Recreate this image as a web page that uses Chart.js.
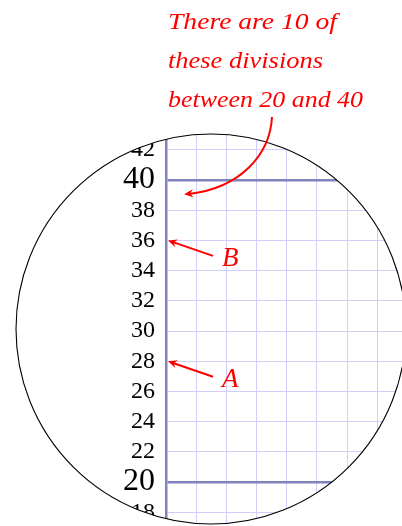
<!DOCTYPE html>
<html>
<head>
<meta charset="utf-8">
<script src="https://cdn.jsdelivr.net/npm/chart.js@4.4.1/dist/chart.umd.min.js"></script>
<style>
html,body{margin:0;padding:0;background:#fff;}
#wrap{width:402px;height:526px;position:relative;}
</style>
</head>
<body>
<div id="wrap"><canvas id="c" width="402" height="526"></canvas></div>
<script>
// ---- data ----
const yRange = [17.09, 51.92];          // visible value range of the scale
const xRange = [0, 15.63];
const gridStep = [2];                    // both directions
const majorValues = [20, 40];            // emphasised lines / larger labels
const markedLabels = ['B', 'A'];
const markedValues = [36, 28];
const noteLines = ['There are 10 of', 'these divisions', 'between 20 and 40'];
const noteArrowTarget = [1.2, 39.05];    // x, y value where curved arrow ends

const RED = '#ff0000';
const AXIS = '#8282bf';
const GRID = '#cfcff7';
const SERIF = '"Liberation Serif", "Times New Roman", Times, serif';

function arrowHead(ctx, x, y, ang) {
  const L = 10, W = 0.42;
  ctx.beginPath();
  ctx.moveTo(x, y);
  ctx.lineTo(x - L * Math.cos(ang - W), y - L * Math.sin(ang - W));
  ctx.lineTo(x - 6 * Math.cos(ang), y - 6 * Math.sin(ang));
  ctx.lineTo(x - L * Math.cos(ang + W), y - L * Math.sin(ang + W));
  ctx.closePath();
  ctx.fill();
}

const circle = {cx: 211, cy: 329, r: 195};

const lensPlugin = {
  id: 'lens',
  beforeDraw(chart) {
    const ctx = chart.ctx;
    ctx.save();
    ctx.beginPath();
    ctx.arc(circle.cx, circle.cy, circle.r, 0, Math.PI * 2);
    ctx.clip();
  },
  afterDraw(chart) {
    const ctx = chart.ctx;
    ctx.restore();
    ctx.save();
    ctx.strokeStyle = '#000';
    ctx.lineWidth = 1.1;
    ctx.beginPath();
    ctx.arc(circle.cx, circle.cy, circle.r, 0, Math.PI * 2);
    ctx.stroke();
    ctx.restore();

    const xs = chart.scales.x, ys = chart.scales.y;
    const left = chart.chartArea.left;

    ctx.save();
    ctx.fillStyle = RED;
    ctx.strokeStyle = RED;
    ctx.lineWidth = 2;
    markedLabels.forEach((lab, i) => {
      const ty = ys.getPixelForValue(markedValues[i]);
      const tx = left + 2;
      const sx = tx + 45, sy = ty + 15.5;
      ctx.beginPath();
      ctx.moveTo(sx, sy);
      ctx.lineTo(tx + 5, ty + 1.7);
      ctx.stroke();
      arrowHead(ctx, tx, ty, Math.atan2(ty - sy, tx - sx));
      ctx.font = 'italic 27px ' + SERIF;
      ctx.textAlign = 'left';
      ctx.textBaseline = 'alphabetic';
      ctx.fillText(lab, sx + 9, sy + 10);
    });

    const ex = xs.getPixelForValue(noteArrowTarget[0]);
    const ey = ys.getPixelForValue(noteArrowTarget[1]);
    const p0 = [272, 117], p1 = [270, 155], p2 = [240, 188];
    ctx.beginPath();
    ctx.moveTo(p0[0], p0[1]);
    ctx.bezierCurveTo(p1[0], p1[1], p2[0], p2[1], ex + 5, ey - 0.4);
    ctx.stroke();
    arrowHead(ctx, ex, ey, Math.atan2(ey - p2[1], ex - p2[0]));

    ctx.font = 'italic 24px ' + SERIF;
    ctx.textAlign = 'left';
    ctx.textBaseline = 'alphabetic';
    const targets = [169, 155, 195];
    noteLines.forEach((t, i) => {
      const w = ctx.measureText(t).width;
      ctx.save();
      ctx.translate(168, 29 + i * 39);
      ctx.scale(targets[i] / w, 1);
      ctx.fillText(t, 0, 0);
      ctx.restore();
    });
    ctx.restore();
  }
};

function build() {
  new Chart(document.getElementById('c'), {
    type: 'line',
    data: {datasets: []},
    plugins: [lensPlugin],
    options: {
      responsive: false,
      animation: false,
      events: [],
      layout: {padding: 0},
      plugins: {legend: {display: false}, tooltip: {enabled: false}},
      scales: {
        x: {
          type: 'linear',
          min: xRange[0], max: xRange[1],
          grid: {color: GRID, lineWidth: 1, drawTicks: false},
          border: {display: false},
          ticks: {display: false, stepSize: gridStep[0], includeBounds: false},
          afterFit(s) { s.height = 0; s.paddingLeft = 0; s.paddingRight = 0; }
        },
        y: {
          type: 'linear',
          min: yRange[0], max: yRange[1],
          grid: {
            color: c => majorValues.includes(c.tick && c.tick.value) ? AXIS : GRID,
            lineWidth: c => majorValues.includes(c.tick && c.tick.value) ? 2.5 : 1,
            drawTicks: false
          },
          border: {display: true, color: AXIS, width: 2.5},
          ticks: {
            stepSize: gridStep[0],
            includeBounds: false,
            autoSkip: false,
            padding: 11,
            color: '#000',
            font: c => ({family: SERIF, size: majorValues.includes(c.tick && c.tick.value) ? 32 : 24}),
            callback: v => String(v)
          },
          afterFit(s) { s.width = 166; s.paddingTop = 0; s.paddingBottom = 0; }
        }
      }
    }
  });
}

Promise.all([
  document.fonts.load('24px "Liberation Serif"'),
  document.fonts.load('italic 24px "Liberation Serif"')
]).catch(() => {}).then(build);
</script>
</body>
</html>
